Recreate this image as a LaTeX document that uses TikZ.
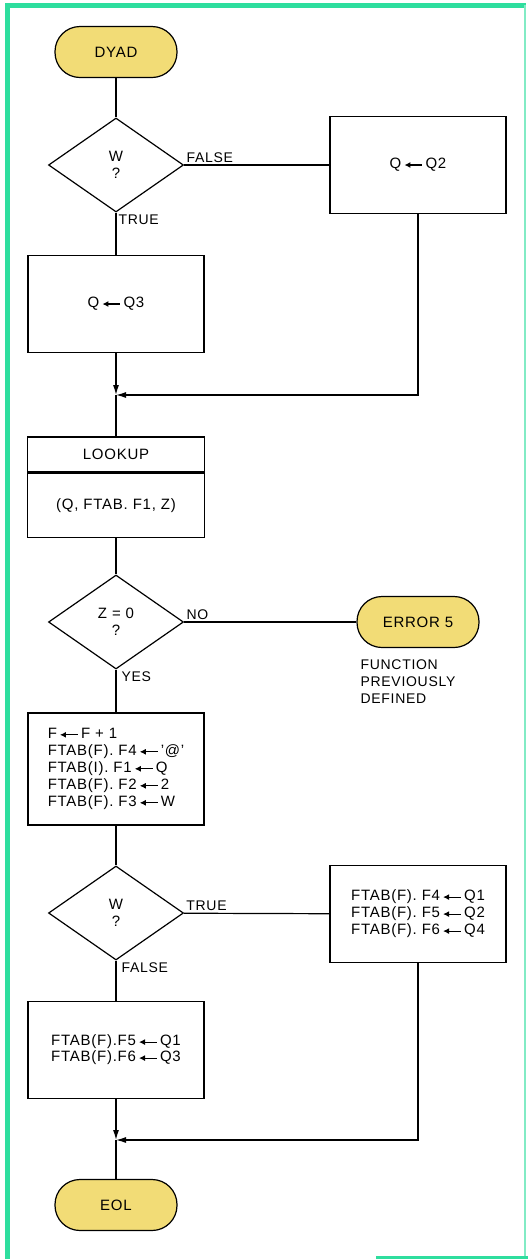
\documentclass[tikz,border=0pt]{standalone}
\usepackage{fontspec}
\setmainfont{Liberation Sans}[LetterSpace=5]
\usetikzlibrary{shapes.geometric,arrows.meta}
\definecolor{termyellow}{RGB}{242,220,118}
\definecolor{framegreen}{RGB}{46,222,158}
\newcommand{\asgn}{\,\tikz[baseline=-3.8pt]\draw[line width=1.1pt,{Latex[length=6pt,width=6pt]}-] (0pt,0pt) -- (18pt,0pt);\,}
\begin{document}
\begin{tikzpicture}[x=1pt,y=-1pt,line width=1.2pt,
  >={Latex[length=10pt,width=6pt]},
  every node/.style={font=\fontsize{15}{17}\selectfont},
  term/.style={draw,fill=termyellow,rounded corners=25pt,minimum width=122pt,minimum height=51pt},
  proc/.style={draw,minimum width=176pt,minimum height=97pt,align=left},
  decide/.style={diamond,draw,minimum width=135pt,minimum height=94pt,inner sep=0pt,align=center},
  lbl/.style={font=\fontsize{14}{17}\selectfont,inner sep=2pt}]
\def\xL{116};
\def\xR{418};
\useasboundingbox (0,0) rectangle (528,1259);
% frame
\draw[framegreen,line width=5pt] (7.5,1259) -- (7.5,5) -- (526,5);
\draw[framegreen!60,line width=2pt] (525,5) -- (525,1259);
\draw[framegreen,line width=3pt] (376,1257) -- (528,1257);
% top part
\node[term] (dyad) at (\xL,52) {DYAD};
\node[decide] (w1) at (\xL,165) {W\\?};
\node[proc] (q2) at (\xR,165) {Q\asgn Q2};
\node[proc] (q3) at (\xL,304) {Q\asgn Q3};
\coordinate (m1) at (\xL,395);
\draw (dyad) -- (w1);
\draw (w1) -- (q2) node[lbl,pos=0,anchor=south west]{FALSE};
\draw (w1) -- (q3) node[lbl,pos=0,anchor=north west]{TRUE};
\draw[->] (q3) -- (m1);
\draw[->] (q2) |- (m1);
% lookup
\node[draw,minimum width=177pt,minimum height=35pt] (lookup) at (\xL,454.5) {LOOKUP};
\node[draw,minimum width=177pt,minimum height=64pt,anchor=north] (args) at (lookup.south) {(Q, FTAB. F1, Z)};
\draw (m1) -- (lookup);
\node[decide] (z) at (\xL,622) {Z = 0\\?};
\node[term] (err) at (\xR,622) {ERROR 5};
\node[lbl,anchor=north west,align=left] (note) at (358,657) {FUNCTION\\PREVIOUSLY\\DEFINED};
\draw (args) -- (z);
\draw (z) -- (err) node[lbl,pos=0,anchor=south west]{NO};
% update table
\node[proc,minimum height=112pt] (upd) at (\xL,769) {F\asgn F + 1\\FTAB(F). F4\asgn'@'\\FTAB(I). F1\asgn Q\\FTAB(F). F2\asgn 2\\FTAB(F). F3\asgn W};
\draw (z) -- (upd) node[lbl,pos=0,anchor=north west,xshift=3pt]{YES};
\node[decide] (w2) at (\xL,913) {W\\?};
\node[proc] (fset) at (\xR,914) {FTAB(F). F4\asgn Q1\\FTAB(F). F5\asgn Q2\\FTAB(F). F6\asgn Q4};
\node[proc,font=\fontsize{15}{16}\selectfont] (fclr) at (\xL,1050) {FTAB(F).F5\asgn Q1\\FTAB(F).F6\asgn Q3};
\coordinate (m2) at (\xL,1140);
\node[term] (eol) at (\xL,1205) {EOL};
\draw (upd) -- (w2);
\draw (w2) -- (fset) node[lbl,pos=0,anchor=south west]{TRUE};
\draw (w2) -- (fclr) node[lbl,pos=0,anchor=north west,xshift=3pt]{FALSE};
\draw[->] (fclr) -- (m2);
\draw[->] (fset) |- (m2);
\draw (m2) -- (eol);
\end{tikzpicture}
\end{document}
